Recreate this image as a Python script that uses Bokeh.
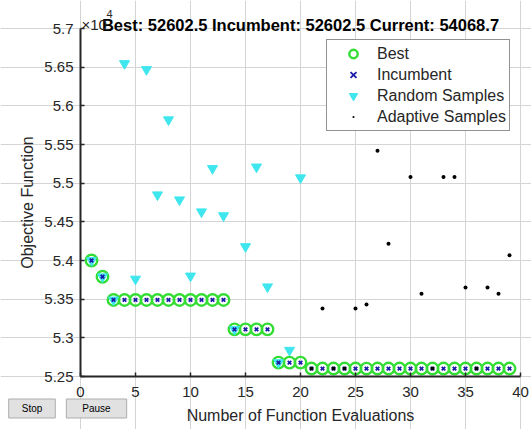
from bokeh.plotting import figure
from bokeh.models import Range1d, FixedTicker, Label, Legend, LegendItem
from bokeh.embed import file_html
from bokeh.resources import INLINE

# ---- data (objective values in units of 1e4) ----
evals = [1, 2, 3, 4, 5, 6, 7, 8, 9, 10, 11, 12, 13, 14, 15, 16, 17, 18, 19, 20,
         21, 22, 23, 24, 25, 26, 27, 28, 29, 30, 31, 32, 33, 34, 35, 36, 37, 38, 39]
best_vals = [5.400, 5.379, 5.349, 5.349, 5.349, 5.349, 5.349, 5.349, 5.349, 5.349,
             5.349, 5.349, 5.349, 5.311, 5.311, 5.311, 5.311, 5.268, 5.268, 5.268,
             5.26025, 5.26025, 5.26025, 5.26025, 5.26025, 5.26025, 5.26025, 5.26025,
             5.26025, 5.26025, 5.26025, 5.26025, 5.26025, 5.26025, 5.26025, 5.26025,
             5.26025, 5.26025, 5.26025]
incumbent_vals = [5.400, 5.379, 5.349, 5.349, 5.349, 5.349, 5.349, 5.349, 5.349, 5.349,
                  5.349, 5.349, 5.349, 5.311, 5.311, 5.311, 5.311, 5.268, 5.268, 5.268,
                  5.26025, 5.26025, 5.26025, 5.26025, 5.26025, 5.26025, 5.26025, 5.26025,
                  5.26025, 5.26025, 5.26025, 5.26025, 5.26025, 5.26025, 5.26025, 5.26025,
                  5.26025, 5.26025, 5.26025]
random_x = [1, 2, 3, 4, 5, 6, 7, 8, 9, 10, 11, 12, 13, 14, 15, 16, 17, 18, 19, 20]
random_vals = [5.400, 5.379, 5.349, 5.6547, 5.376, 5.647, 5.485, 5.582, 5.4785, 5.380,
               5.463, 5.519, 5.458, 5.311, 5.418, 5.521, 5.366, 5.268, 5.284, 5.507]
adaptive_x = [21, 22, 23, 24, 25, 26, 27, 28, 30, 31, 32, 33, 34, 35, 36, 37, 38, 39]
adaptive_vals = [5.26025, 5.338, 5.2603, 5.2603, 5.338, 5.343, 5.542, 5.4215, 5.508,
                 5.357, 5.2603, 5.508, 5.508, 5.365, 5.2603, 5.365, 5.357, 5.40687]

x_ticks = [0, 5, 10, 15, 20, 25, 30, 35, 40]
y_ticks = [5.25, 5.3, 5.35, 5.4, 5.45, 5.5, 5.55, 5.6, 5.65, 5.7]
y_tick_labels = ["5.25", "5.3", "5.35", "5.4", "5.45", "5.5", "5.55", "5.6", "5.65", "5.7"]

title_text = "Best: 52602.5 Incumbent: 52602.5 Current: 54068.7"
x_label = "Number of Function Evaluations"
y_label = "Objective Function"
legend_labels = ["Best", "Incumbent", "Random Samples", "Adaptive Samples"]
button_labels = ["Stop", "Pause"]

FONT = "Liberation Sans"
TXT = "#262626"

# ---- layout: the frame spans the whole canvas, the axes sit at fixed locations ----
W, H = 531, 429
X0, X1 = 0, 40            # axis extent (data)
Y0, Y1 = 5.25, 5.7
PX_L, PX_R = 80, 520      # pixel position of the axis box
PX_T, PX_B = 28, 376
sx = (PX_R - PX_L) / (X1 - X0)
sy = (PX_B - PX_T) / (Y1 - Y0)
x_range = Range1d(X0 - PX_L / sx, X1 + (W - PX_R) / sx)
y_range = Range1d(Y0 - (H - PX_B) / sy, Y1 + PX_T / sy)

p = figure(width=W, height=H, x_range=x_range, y_range=y_range,
           output_backend="svg", toolbar_location=None,
           min_border_left=0, min_border_right=0, min_border_top=0, min_border_bottom=0)
p.background_fill_color = "white"
p.border_fill_color = "white"
p.outline_line_color = None

# axes
p.xaxis.ticker = FixedTicker(ticks=x_ticks)
p.yaxis.ticker = FixedTicker(ticks=y_ticks)
p.yaxis.major_label_overrides = {t: l for t, l in zip(y_ticks, y_tick_labels)}
p.xaxis.fixed_location = Y0
p.yaxis.fixed_location = X0
p.xaxis.bounds = (X0, X1)
p.yaxis.bounds = (Y0, Y1)
for ax in (p.xaxis, p.yaxis):
    ax.axis_line_color = TXT
    ax.axis_line_width = 2
    ax.major_tick_in = 4
    ax.major_tick_out = 0
    ax.major_tick_line_color = TXT
    ax.major_tick_line_width = 1.5
    ax.minor_tick_line_color = None
    ax.major_label_text_font = FONT
    ax.major_label_text_font_size = "15px"
    ax.major_label_text_color = TXT
    ax.axis_label_text_font = FONT
    ax.axis_label_text_font_size = "16px"
    ax.axis_label_text_font_style = "normal"
    ax.axis_label_text_color = TXT
p.xaxis.axis_label = x_label
p.yaxis.axis_label = y_label
p.xaxis.major_label_standoff = 10
p.xaxis.axis_label_standoff = 7
p.yaxis.major_label_standoff = 7
p.yaxis.axis_label_standoff = 5

p.grid.grid_line_color = "#d4d4d4"
p.grid.grid_line_width = 1
p.xgrid.bounds = (Y0, Y1)
p.ygrid.bounds = (X0, X1)

# glyphs
r_best = p.scatter(evals, best_vals, marker="circle", size=11.5, fill_color=None,
                   line_color="#33dd33", line_width=2.4)
r_rand = p.scatter(random_x, random_vals, marker="inverted_triangle", size=10,
                   fill_color="#3fe6ee", line_color="#3fe6ee", line_width=1)
r_inc = p.scatter(evals, incumbent_vals, marker="x", size=5, line_color="#1c1ca8",
                  line_width=1.8)
r_adap = p.scatter(adaptive_x, adaptive_vals, marker="dot", size=16,
                   fill_color="black", line_color="black")

legend = Legend(items=[LegendItem(label=legend_labels[0], renderers=[r_best]),
                       LegendItem(label=legend_labels[1], renderers=[r_inc]),
                       LegendItem(label=legend_labels[2], renderers=[r_rand]),
                       LegendItem(label=legend_labels[3], renderers=[r_adap])],
                location=(326, H - 131))
legend.margin = 0
legend.padding = 3
legend.spacing = 0
legend.label_height = 21
legend.glyph_height = 21
legend.glyph_width = 46
legend.label_standoff = 1
legend.label_text_font = FONT
legend.label_text_font_size = "16px"
legend.label_text_color = TXT
legend.border_line_color = TXT
legend.border_line_width = 1.5
legend.background_fill_color = "white"
legend.background_fill_alpha = 1
p.add_layout(legend)

# title and exponent
p.add_layout(Label(x=(X0 + X1) / 2, y=Y1, y_offset=4, text=title_text, text_align="center",
                   text_baseline="alphabetic", text_font=FONT, text_font_size="16.5px",
                   text_font_style="bold", text_color="black"))
p.add_layout(Label(x=X0, y=Y1, x_offset=1, y_offset=4, text="\u00d710", text_align="left",
                   text_baseline="alphabetic", text_font=FONT, text_font_size="15px",
                   text_color=TXT))
p.add_layout(Label(x=X0, y=Y1, x_offset=26, y_offset=15, text="4", text_align="left",
                   text_baseline="alphabetic", text_font=FONT, text_font_size="11px",
                   text_color=TXT))

# Stop / Pause buttons
p.add_layout(Label(x=X0, y=Y0, x_offset=-48.5, y_offset=-32, text=button_labels[0],
                   text_align="center", text_baseline="middle", text_font=FONT,
                   text_font_size="10px", text_color="black",
                   background_fill_color="#e1e1e1", border_line_color="#adadad",
                   padding=dict(left=13, right=13, top=4, bottom=4)))
p.add_layout(Label(x=X0, y=Y0, x_offset=16, y_offset=-32, text=button_labels[1],
                   text_align="center", text_baseline="middle", text_font=FONT,
                   text_font_size="10px", text_color="black",
                   background_fill_color="#e1e1e1", border_line_color="#adadad",
                   padding=dict(left=16, right=16, top=4, bottom=4)))

open("out.html", "w").write(file_html(p, INLINE))
